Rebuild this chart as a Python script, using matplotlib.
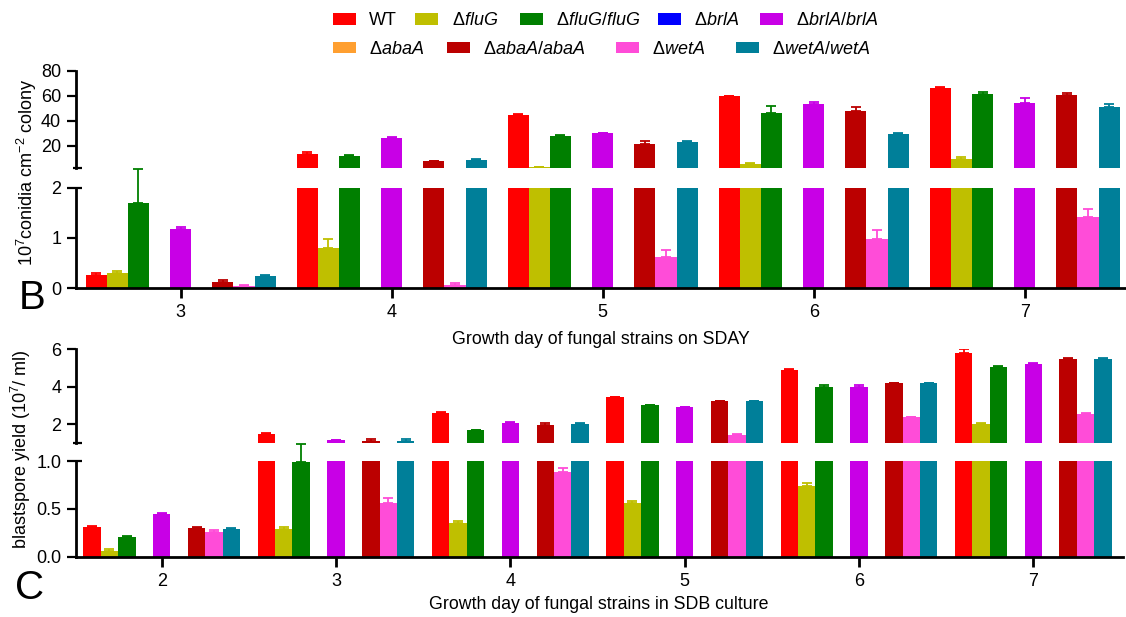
import matplotlib
matplotlib.use('Agg')
import matplotlib.pyplot as plt
import numpy as np
from matplotlib.patches import Rectangle

plt.rcParams['font.family'] = ['Liberation Sans', 'DejaVu Sans']
plt.rcParams['mathtext.fontset'] = 'custom'
plt.rcParams['mathtext.rm'] = 'Liberation Sans'
plt.rcParams['mathtext.it'] = 'Liberation Sans:italic'
plt.rcParams['mathtext.bf'] = 'Liberation Sans:bold'

# ---------------- data ----------------
strain_labels = [r'WT', r'$\Delta\mathit{fluG}$', r'$\Delta\mathit{fluG/fluG}$',
                 r'$\Delta\mathit{brlA}$', r'$\Delta\mathit{brlA/brlA}$',
                 r'$\Delta\mathit{abaA}$', r'$\Delta\mathit{abaA/abaA}$',
                 r'$\Delta\mathit{wetA}$', r'$\Delta\mathit{wetA/wetA}$']
strain_colors = ['#FF0000', '#BFBF00', '#007F00', '#0000FF', '#C800E6',
                 '#FF9F30', '#BB0000', '#FF4CD8', '#007F99']

# Panel B: conidia on SDAY (days 3-7)
days_B = [3, 4, 5, 6, 7]
B_WT = [0.27, 13.5, 44.6, 59.5, 66.4]
B_fluG = [0.30, 0.80, 2.7, 5.4, 9.6]
B_fluG_c = [1.70, 11.5, 27.8, 46.2, 61.6]
B_brlA = [0, 0, 0, 0, 0]
B_brlA_c = [1.17, 26.2, 29.9, 53.4, 54.4]
B_abaA = [0, 0, 0, 0, 0]
B_abaA_c = [0.13, 7.5, 21.4, 48.0, 60.8]
B_wetA = [0.04, 0.06, 0.63, 0.99, 1.41]
B_wetA_c = [0.24, 8.6, 23.0, 29.1, 51.2]
B_WT_err = [0.03, 1.6, 1.0, 0.5, 0.6]
B_fluG_err = [0.05, 0.18, 0.3, 0.4, 1.3]
B_fluG_c_err = [0.67, 1.0, 1.0, 5.6, 1.0]
B_brlA_err = [0, 0, 0, 0, 0]
B_brlA_c_err = [0.05, 0.5, 0.6, 1.4, 3.8]
B_abaA_err = [0, 0, 0, 0, 0]
B_abaA_c_err = [0.035, 0.6, 2.4, 3.2, 1.6]
B_wetA_err = [0.03, 0.04, 0.13, 0.17, 0.17]
B_wetA_c_err = [0.03, 0.6, 0.7, 0.8, 2.2]

# Panel C: blastspores in SDB (days 2-7)
days_C = [2, 3, 4, 5, 6, 7]
C_WT = [0.31, 1.50, 2.62, 3.43, 4.89, 5.81]
C_fluG = [0.06, 0.29, 0.35, 0.56, 0.74, 2.02]
C_fluG_c = [0.21, 0.99, 1.70, 3.02, 3.96, 5.05]
C_brlA = [0, 0, 0, 0, 0, 0]
C_brlA_c = [0.45, 1.18, 2.05, 2.92, 3.98, 5.21]
C_abaA = [0, 0, 0, 0, 0, 0]
C_abaA_c = [0.30, 1.11, 1.98, 3.23, 4.19, 5.46]
C_wetA = [0.26, 0.56, 0.89, 1.45, 2.39, 2.58]
C_wetA_c = [0.29, 1.11, 2.00, 3.22, 4.19, 5.49]
C_WT_err = [0.01, 0.03, 0.05, 0.03, 0.03, 0.18]
C_fluG_err = [0.02, 0.02, 0.02, 0.02, 0.03, 0.03]
C_fluG_c_err = [0.01, 0.19, 0.03, 0.03, 0.12, 0.03]
C_brlA_err = [0, 0, 0, 0, 0, 0]
C_brlA_c_err = [0.01, 0.02, 0.08, 0.02, 0.12, 0.03]
C_abaA_err = [0, 0, 0, 0, 0, 0]
C_abaA_c_err = [0.01, 0.13, 0.07, 0.03, 0.02, 0.05]
C_wetA_err = [0.02, 0.05, 0.04, 0.03, 0.03, 0.04]
C_wetA_c_err = [0.01, 0.13, 0.05, 0.03, 0.02, 0.05]

B_means = [B_WT, B_fluG, B_fluG_c, B_brlA, B_brlA_c, B_abaA, B_abaA_c, B_wetA, B_wetA_c]
B_errs = [B_WT_err, B_fluG_err, B_fluG_c_err, B_brlA_err, B_brlA_c_err,
          B_abaA_err, B_abaA_c_err, B_wetA_err, B_wetA_c_err]
C_means = [C_WT, C_fluG, C_fluG_c, C_brlA, C_brlA_c, C_abaA, C_abaA_c, C_wetA, C_wetA_c]
C_errs = [C_WT_err, C_fluG_err, C_fluG_c_err, C_brlA_err, C_brlA_c_err,
          C_abaA_err, C_abaA_c_err, C_wetA_err, C_wetA_c_err]

# ---------------- layout ----------------
W, H = 1126, 617
fig = plt.figure(figsize=(W / 100, H / 100), dpi=100)


def px_ax(left, top, right, bottom):
    return fig.add_axes([left / W, 1 - bottom / H, (right - left) / W, (bottom - top) / H])


axB_hi = px_ax(76, 70.7, 1126, 168.2)
axB_lo = px_ax(76, 187.7, 1126, 288.3)
axC_hi = px_ax(76, 349.0, 1122.7, 443.3)
axC_lo = px_ax(76, 461.0, 1122.7, 556.7)

SPINE_LW = 2.0
TICK_FS = 13


def style_axes(ax, is_low):
    for s in ['top', 'right']:
        ax.spines[s].set_visible(False)
    ax.spines['left'].set_linewidth(SPINE_LW)
    ax.spines['bottom'].set_linewidth(SPINE_LW)
    if not is_low:
        ax.spines['bottom'].set_visible(False)
        ax.tick_params(axis='x', bottom=False, labelbottom=False)
    else:
        ax.tick_params(axis='x', direction='out', length=7, width=2.0, pad=4.5, labelsize=TICK_FS)
    ax.tick_params(axis='y', direction='out', length=6.7, width=1.6, pad=4.0, labelsize=TICK_FS)
    ax.set_facecolor('none')


def break_marks(ax_hi, ax_lo):
    w_hi = ax_hi.get_position().width * W
    ax_lo.plot([0, 6 / w_hi], [1, 1], transform=ax_lo.transAxes, color='k', lw=1.6,
               clip_on=False, solid_capstyle='butt')
    ax_hi.plot([-3 / w_hi, 6 / w_hi], [0, 0], transform=ax_hi.transAxes, color='k', lw=1.6,
               clip_on=False, solid_capstyle='butt')


def draw_panel(ax_hi, ax_lo, days, means, errs, brk):
    n = len(means)
    width = 0.1
    x = np.asarray(days, float)
    for i in range(n):
        m = np.asarray(means[i], float)
        e = np.asarray(errs[i], float)
        c = strain_colors[i]
        xi = x + (i - (n - 1) / 2) * width
        for ax in (ax_hi, ax_lo):
            ax.bar(xi, m, width, color=c, edgecolor='none', linewidth=0, zorder=2)
        has = m > 0
        for ax, sel in ((ax_hi, has & (m > brk)), (ax_lo, has & (m <= brk))):
            if sel.sum() == 0:
                continue
            eb = ax.errorbar(xi[sel], m[sel], yerr=[np.zeros(sel.sum()), e[sel]], fmt='none',
                             ecolor=c, elinewidth=1.3, capsize=3.3, capthick=1.3, zorder=3)
            if ax is ax_lo:
                for art in list(eb.lines[1]) + list(eb.lines[2]):
                    art.set_clip_on(False)


draw_panel(axB_hi, axB_lo, days_B, B_means, B_errs, 2.0)
draw_panel(axC_hi, axC_lo, days_C, C_means, C_errs, 1.0)

for ax in (axB_hi, axC_hi):
    style_axes(ax, False)
for ax in (axB_lo, axC_lo):
    style_axes(ax, True)

axB_hi.set_ylim(2, 80)
axB_hi.set_yticks([20, 40, 60, 80])
axB_lo.set_ylim(0, 2)
axB_lo.set_yticks([0, 1, 2])
axB_lo.set_xticks(days_B)
for ax in (axB_hi, axB_lo):
    ax.set_xlim(2.504, 7.48)

axC_hi.set_ylim(1, 6)
axC_hi.set_yticks([2, 4, 6])
axC_lo.set_ylim(0, 1)
axC_lo.set_yticks([0, 0.5, 1.0])
axC_lo.set_yticklabels(['0.0', '0.5', '1.0'])
axC_lo.set_xticks(days_C)
for ax in (axC_hi, axC_lo):
    ax.set_xlim(1.508, 7.513)

break_marks(axB_hi, axB_lo)
break_marks(axC_hi, axC_lo)

# axis titles
fig.text(601 / W, 1 - 344.5 / H, 'Growth day of fungal strains on SDAY', ha='center',
         va='baseline', fontsize=12.8)
fig.text(599 / W, 1 - 609 / H, 'Growth day of fungal strains in SDB culture', ha='center',
         va='baseline', fontsize=12.8)
fig.text(27 / W, 1 - 172 / H, r'10$^{7}$conidia cm$^{-2}$ colony', rotation=90,
         ha='center', va='center', fontsize=13)
fig.text(21 / W, 1 - 449 / H, r'blastspore yield (10$^{7}$/ ml)', rotation=90,
         ha='center', va='center', fontsize=13)

# panel letters
fig.text(19 / W, 1 - 309 / H, 'B', fontsize=29, ha='left', va='baseline')
fig.text(15 / W, 1 - 599 / H, 'C', fontsize=29, ha='left', va='baseline')

# legend (two rows)
legend_rows = [([0, 1, 2, 3, 4], [332.7, 415, 520, 657.7, 760], 19.0),
               ([5, 6, 7, 8], [332.7, 446.7, 615.7, 736], 47.5)]
for idxs, lefts, yc in legend_rows:
    for k, lx in zip(idxs, lefts):
        fig.patches.append(Rectangle((lx / W, 1 - (yc + 5.8) / H), 23 / W, 11.6 / H,
                                     transform=fig.transFigure, facecolor=strain_colors[k],
                                     edgecolor='none'))
        fig.text((lx + 36.5) / W, 1 - (yc + 6.3) / H, strain_labels[k], fontsize=13,
                 ha='left', va='baseline')

fig.savefig('out.png', dpi=100)
